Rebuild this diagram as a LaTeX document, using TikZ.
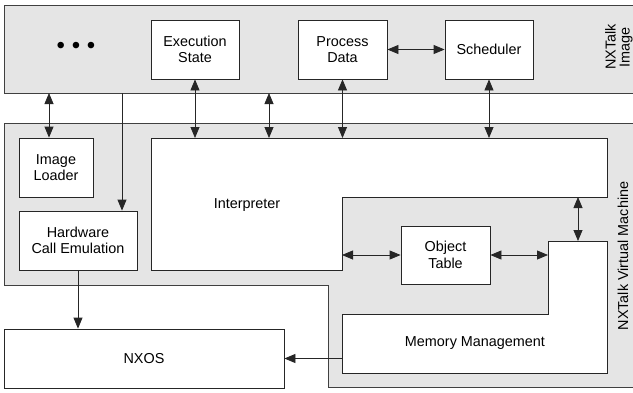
\documentclass[tikz,border=0pt]{standalone}
\usepackage{fontspec}
\setmainfont{Liberation Sans}
\usetikzlibrary{arrows.meta}
\usetikzlibrary{calc}

\begin{document}
\begin{tikzpicture}[x=1pt, y=-1pt,
  >={Triangle[length=11pt,width=9pt]},
  font=\fontsize{14.4}{16.5}\selectfont,
  frame/.style={draw=black!75, line width=0.8pt, fill=black!10},
  blk/.style={draw=black!85, line width=0.8pt, fill=white, inner sep=0pt,
    minimum height=59pt, align=center},
  conn/.style={black!85, line width=0.8pt}]
\clip (0,0) rectangle (633,392);
\useasboundingbox (0,0) rectangle (633,392);

% outer frames
\draw[frame] (4,5) rectangle (640,93);
\draw[frame] (4,123) -- (640,123) -- (640,387) -- (328,387) -- (328,285) -- (4,285) -- cycle;
\node[rotate=90, align=center, font=\fontsize{14.4}{14}\selectfont] (imglabel) at (619,47) {NXTalk\\Image};
\node[rotate=90] (vmlabel) at (623,256) {NXTalk Virtual Machine};

% image contents
\node (dots) at (76,48) {\fontsize{24}{24}\selectfont • • •};
\node[blk, minimum width=88pt] (exec) at (195,49.5) {Execution\\State};
\node[blk, minimum width=89pt] (pdata) at (342.5,49.5) {Process\\Data};
\node[blk, minimum width=88pt] (sched) at (489,49.5) {Scheduler};

% virtual machine contents
\node[blk, minimum width=74pt] (loader) at (56,167.5) {Image\\Loader};
\node[blk, minimum width=118pt] (hwce) at (78,240.5) {Hardware\\Call Emulation};
\draw[draw=black!85, line width=0.8pt, fill=white] (151,138) coordinate (inw) -- (607,138) -- (607,197) -- (342,197)
  -- (342,270) coordinate (ise) -- (151,270) -- cycle;
\node (interp) at (247,205) {Interpreter};
\draw[draw=black!85, line width=0.8pt, fill=white] (342,314) -- (548,314) -- (548,241) coordinate (mne) -- (607,241)
  -- (607,373) -- (342,373) coordinate (msw) -- cycle;
\node (memory) at (475,343) {Memory Management};
\node[blk, minimum width=89pt, minimum height=58pt] (otable) at (445.5,255) {Object\\Table};
\node[blk, minimum width=280pt] (nxos) at (144,358.5) {NXOS};

\coordinate (imgb1) at (49,93);
\coordinate (imgb2) at (122,93);
\coordinate (imgb3) at (269,93);
\coordinate (istep) at (578,197);
\coordinate (mstep) at (578,241);

\path[<->, conn]
(imgb1) edge (imgb1 |- loader.north)
(exec.south) edge (exec.south |- inw)
(imgb3) edge (imgb3 |- inw)
(pdata.south) edge (pdata.south |- inw)
(sched.south) edge (sched.south |- inw)
(pdata.east) edge (sched.west)
(istep) edge (mstep)
(ise |- otable.west) edge (otable.west)
(otable.east) edge (otable.east -| mne)
;
\path[->, conn]
(imgb2) edge (imgb2 |- hwce.north)
(hwce.south) edge (hwce.south |- nxos.north)
(msw |- nxos.east) edge (nxos.east)
;
\end{tikzpicture}
\end{document}
